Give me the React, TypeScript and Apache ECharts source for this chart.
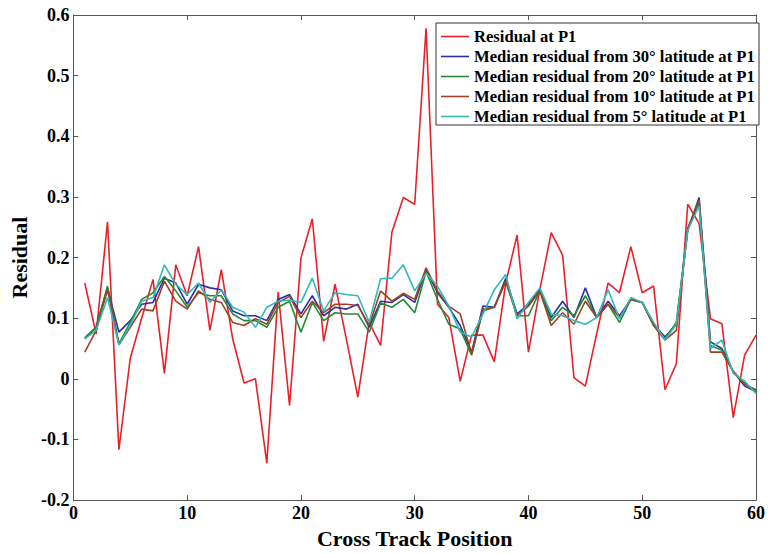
import React, { useEffect, useRef } from "react";
import * as echarts from "echarts";

const positions = [
  1, 2, 3, 4, 5, 6, 7, 8, 9, 10, 11, 12, 13, 14, 15, 16, 17, 18, 19, 20,
  21, 22, 23, 24, 25, 26, 27, 28, 29, 30, 31, 32, 33, 34, 35, 36, 37, 38, 39, 40,
  41, 42, 43, 44, 45, 46, 47, 48, 49, 50, 51, 52, 53, 54, 55, 56, 57, 58, 59, 60,
];

const residualP1 = [
  0.158, 0.074, 0.259, -0.117, 0.034, 0.1, 0.164, 0.009, 0.188, 0.137,
  0.218, 0.08, 0.18, 0.066, -0.007, 0.0, -0.139, 0.143, -0.044, 0.199,
  0.264, 0.062, 0.156, 0.065, -0.03, 0.093, 0.055, 0.242, 0.299, 0.288,
  0.578, 0.123, 0.101, -0.004, 0.072, 0.072, 0.028, 0.158, 0.237, 0.044,
  0.147, 0.241, 0.204, 0.002, -0.012, 0.075, 0.158, 0.142, 0.218, 0.142,
  0.153, -0.018, 0.025, 0.288, 0.256, 0.099, 0.091, -0.064, 0.039, 0.072,
];

const median30 = [
  0.066, 0.085, 0.15, 0.077, 0.096, 0.123, 0.126, 0.166, 0.158, 0.123,
  0.156, 0.15, 0.147, 0.112, 0.104, 0.104, 0.096, 0.131, 0.139, 0.107,
  0.137, 0.104, 0.118, 0.115, 0.123, 0.085, 0.128, 0.126, 0.139, 0.126,
  0.18, 0.142, 0.118, 0.088, 0.044, 0.12, 0.118, 0.166, 0.107, 0.123,
  0.147, 0.101, 0.128, 0.101, 0.15, 0.101, 0.128, 0.104, 0.131, 0.126,
  0.09, 0.069, 0.09, 0.245, 0.299, 0.061, 0.05, 0.012, -0.012, -0.021,
];

const median20 = [
  0.068, 0.085, 0.153, 0.058, 0.093, 0.131, 0.142, 0.169, 0.145, 0.118,
  0.142, 0.137, 0.137, 0.107, 0.096, 0.096, 0.085, 0.118, 0.128, 0.077,
  0.126, 0.096, 0.109, 0.107, 0.107, 0.077, 0.125, 0.118, 0.131, 0.109,
  0.177, 0.131, 0.09, 0.082, 0.039, 0.112, 0.118, 0.161, 0.104, 0.104,
  0.145, 0.096, 0.118, 0.104, 0.137, 0.101, 0.123, 0.093, 0.131, 0.126,
  0.088, 0.066, 0.093, 0.248, 0.294, 0.055, 0.047, 0.012, -0.007, -0.021,
];

const median10 = [
  0.044, 0.08, 0.147, 0.056, 0.085, 0.115, 0.112, 0.161, 0.128, 0.115,
  0.145, 0.131, 0.126, 0.093, 0.088, 0.099, 0.09, 0.126, 0.136, 0.101,
  0.128, 0.109, 0.123, 0.123, 0.121, 0.088, 0.145, 0.128, 0.141, 0.131,
  0.183, 0.145, 0.12, 0.107, 0.041, 0.115, 0.118, 0.161, 0.104, 0.12,
  0.145, 0.088, 0.109, 0.09, 0.128, 0.101, 0.123, 0.101, 0.131, 0.126,
  0.088, 0.064, 0.08, 0.248, 0.291, 0.044, 0.044, 0.012, -0.009, -0.018,
];

const median5 = [
  0.066, 0.08, 0.134, 0.056, 0.088, 0.128, 0.134, 0.188, 0.156, 0.139,
  0.158, 0.126, 0.147, 0.118, 0.11, 0.085, 0.118, 0.128, 0.13, 0.126,
  0.166, 0.112, 0.142, 0.139, 0.137, 0.093, 0.165, 0.166, 0.188, 0.145,
  0.174, 0.153, 0.12, 0.077, 0.069, 0.107, 0.147, 0.172, 0.099, 0.126,
  0.15, 0.107, 0.104, 0.096, 0.09, 0.101, 0.147, 0.099, 0.134, 0.126,
  0.093, 0.064, 0.09, 0.245, 0.285, 0.05, 0.064, 0.009, -0.004, -0.024,
];

const seriesNames = [
  "Residual at P1",
  "Median residual from 30° latitude at P1",
  "Median residual from 20° latitude at P1",
  "Median residual from 10° latitude at P1",
  "Median residual from 5° latitude at P1",
];
const seriesColors = ["#e8202a", "#2a30a8", "#228b34", "#a04020", "#33b8b8"];
const seriesValues = [residualP1, median30, median20, median10, median5];

const FONT = "'Liberation Serif', 'Times New Roman', serif";

export default function App() {
  const ref = useRef<HTMLDivElement>(null);
  useEffect(() => {
    if (!ref.current) return;
    const chart = echarts.init(ref.current, undefined, { renderer: "svg" });
    const axisLineStyle = { color: "#555", width: 1 };
    const labelStyle = {
      fontFamily: FONT,
      fontWeight: "bold" as const,
      fontSize: 18,
      color: "#000",
    };
    const lineIcon = "path://M0,0 L28,0 L28,1.6 L0,1.6 Z";
    chart.setOption({
      animation: false,
      backgroundColor: "#fff",
      grid: { left: 71, right: 8, top: 15, bottom: 47, containLabel: false },
      graphic: [
        {
          type: "rect",
          z: 3,
          shape: { x: 436, y: 23, width: 323, height: 102 },
          style: { fill: "#fff", stroke: "#333", lineWidth: 1 },
          silent: true,
        },
      ],
      legend: {
        orient: "vertical",
        left: 441,
        top: 28,
        z: 5,
        itemWidth: 28,
        itemHeight: 14,
        itemGap: 3,
        padding: 0,
        align: "left",
        textStyle: { ...labelStyle, fontSize: 16.6, lineHeight: 17 },
        data: seriesNames.map((name) => ({ name, icon: lineIcon })),
      },
      xAxis: [
        {
          type: "value",
          min: 0,
          max: 60,
          interval: 10,
          name: "Cross Track Position",
          nameLocation: "middle",
          nameGap: 23,
          nameTextStyle: { ...labelStyle, fontSize: 22 },
          axisLine: { show: true, onZero: false, lineStyle: axisLineStyle },
          axisTick: { show: true, inside: true, length: 5, lineStyle: axisLineStyle },
          axisLabel: { ...labelStyle, margin: 4 },
          splitLine: { show: false },
        },
        {
          type: "value",
          position: "top",
          min: 0,
          max: 60,
          interval: 10,
          axisLine: { show: true, onZero: false, lineStyle: axisLineStyle },
          axisTick: { show: true, inside: true, length: 5, lineStyle: axisLineStyle },
          axisLabel: { show: false },
          splitLine: { show: false },
        },
      ],
      yAxis: [
        {
          type: "value",
          min: -0.2,
          max: 0.6,
          interval: 0.1,
          name: "Residual",
          nameLocation: "middle",
          nameGap: 34,
          nameTextStyle: { ...labelStyle, fontSize: 22 },
          axisLine: { show: true, onZero: false, lineStyle: axisLineStyle },
          axisTick: { show: true, inside: true, length: 5, lineStyle: axisLineStyle },
          axisLabel: {
            ...labelStyle,
            margin: 4,
            formatter: (v: number) => (Math.abs(v) < 1e-9 ? "0" : v.toFixed(1)),
          },
          splitLine: { show: false },
        },
        {
          type: "value",
          position: "right",
          min: -0.2,
          max: 0.6,
          interval: 0.1,
          axisLine: { show: true, onZero: false, lineStyle: axisLineStyle },
          axisTick: { show: true, inside: true, length: 5, lineStyle: axisLineStyle },
          axisLabel: { show: false },
          splitLine: { show: false },
        },
      ],
      series: seriesNames.map((name, k) => ({
        name,
        type: "line",
        xAxisIndex: 0,
        yAxisIndex: 0,
        symbol: "none",
        color: seriesColors[k],
        lineStyle: { color: seriesColors[k], width: 1.6 },
        data: positions.map((p, i) => [p, seriesValues[k][i]]),
      })),
    });
    return () => chart.dispose();
  }, []);
  return (
    <div
      ref={ref}
      style={{ position: "fixed", left: 0, top: 0, width: 768, height: 554 }}
    />
  );
}
